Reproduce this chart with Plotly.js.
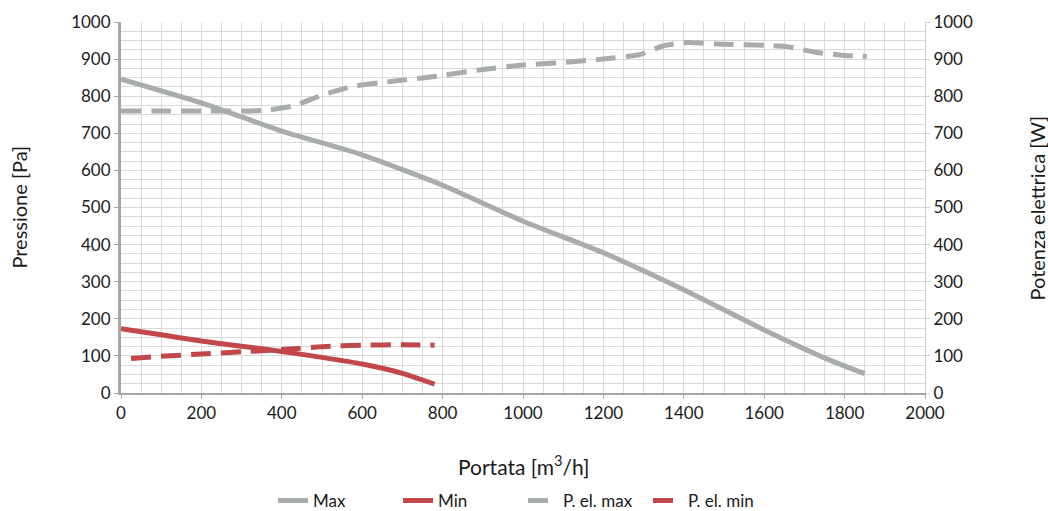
<!DOCTYPE html>
<html>
<head>
<meta charset="utf-8">
<script src="https://cdn.plot.ly/plotly-3.0.1.min.js"></script>
<style>
  html, body { margin: 0; padding: 0; background: #ffffff; }
  #chart { width: 1048px; height: 511px; }
</style>
</head>
<body>
<div id="chart"></div>
<script>
// Data
const maxX = [0, 200, 400, 600, 800, 1000, 1200, 1400, 1600, 1760, 1850];
const maxY = [846, 782, 706, 642, 560, 463, 378, 278, 170, 90, 52];

const minX = [0, 100, 200, 300, 400, 500, 600, 700, 780];
const minY = [173, 157, 140, 126, 112, 96, 78, 53, 24];

const pelMaxX = [0, 100, 200, 300, 360, 430, 500, 575, 665, 750, 800, 900, 1000, 1100, 1200, 1290, 1350, 1410, 1500, 1600, 1660, 1730, 1800, 1855];
const pelMaxY = [760, 760, 760, 760, 762, 774, 803, 826, 839, 849, 856, 872, 884, 891, 900, 912, 936, 945, 940, 937, 933, 918, 910, 907];

const pelMinX = [25, 100, 200, 300, 400, 500, 600, 700, 780];
const pelMinY = [93, 99, 105, 111, 117, 125, 129, 130, 129];

const xTickVals = [0, 200, 400, 600, 800, 1000, 1200, 1400, 1600, 1800, 2000];
const yTickVals = [0, 100, 200, 300, 400, 500, 600, 700, 800, 900, 1000];

const seriesNames = ['Max', 'Min', 'P. el. max', 'P. el. min'];
const xTitle = 'Portata [m<sup>3</sup>/h]';
const yTitle = 'Pressione [Pa]';
const y2Title = 'Potenza elettrica [W]';

const GRAY = '#a9acac';
const RED = '#c2474a';
const GRID = '#d9d9d9';
const AXIS = '#a6a6a6';
const TXT = '#1a1a1a';
const FONT = 'Lato, "Noto Sans", sans-serif';

const traces = [
  { x: maxX, y: maxY, name: seriesNames[0], mode: 'lines', line: { color: GRAY, width: 5, shape: 'spline', smoothing: 0.5 }, yaxis: 'y' },
  { x: minX, y: minY, name: seriesNames[1], mode: 'lines', line: { color: RED, width: 5, shape: 'spline', smoothing: 0.5 }, yaxis: 'y' },
  { x: pelMaxX, y: pelMaxY, name: seriesNames[2], mode: 'lines', line: { color: GRAY, width: 5, dash: '20px,10px', shape: 'spline', smoothing: 0.5 }, yaxis: 'y2' },
  { x: pelMinX, y: pelMinY, name: seriesNames[3], mode: 'lines', line: { color: RED, width: 5, dash: '20px,10px', shape: 'spline', smoothing: 0.5 }, yaxis: 'y2' }
];

const layout = {
  width: 1048, height: 511,
  margin: { l: 121, r: 123, t: 22, b: 118, autoexpand: false },
  paper_bgcolor: '#ffffff', plot_bgcolor: '#ffffff',
  font: { family: FONT, size: 17, color: TXT },
  showlegend: true,
  legend: { orientation: 'h', x: 0.5, xanchor: 'center', y: -0.291, yanchor: 'middle', font: { size: 17, color: TXT }, tracegroupgap: 0, entrywidth: 80 },
  xaxis: {
    range: [0, 2000], tickvals: xTickVals, ticktext: xTickVals.map(String),
    showgrid: true, gridcolor: GRID, gridwidth: 1,
    minor: { dtick: 50, tick0: 0, showgrid: true, gridcolor: GRID, gridwidth: 1, ticks: '' },
    showline: true, linecolor: AXIS, linewidth: 2,
    ticks: 'outside', ticklen: 4, tickcolor: AXIS, tickwidth: 1,
    zeroline: false, fixedrange: true, automargin: false,
    tickfont: { size: 17, color: TXT }
  },
  yaxis: {
    range: [0, 1000], tickvals: yTickVals, ticktext: yTickVals.map(String),
    showgrid: true, gridcolor: GRID, gridwidth: 1,
    minor: { dtick: 25, tick0: 0, showgrid: true, gridcolor: GRID, gridwidth: 1, ticks: '' },
    showline: true, linecolor: AXIS, linewidth: 3,
    ticks: 'outside', ticklen: 4, tickcolor: AXIS, tickwidth: 1,
    zeroline: false, fixedrange: true, automargin: false,
    tickfont: { size: 17, color: TXT }
  },
  yaxis2: {
    range: [0, 1000], tickvals: yTickVals, ticktext: yTickVals.map(String),
    overlaying: 'y', side: 'right', showgrid: false,
    showline: true, linecolor: '#cfcfcf', linewidth: 1,
    ticks: 'outside', ticklen: 4, tickcolor: '#cfcfcf', tickwidth: 1,
    zeroline: false, fixedrange: true, automargin: false,
    tickfont: { size: 17, color: TXT }
  },
  annotations: [
    { text: xTitle, xref: 'paper', yref: 'paper', x: 0.5, y: -0.194, xanchor: 'center', yanchor: 'middle', showarrow: false, font: { size: 21, color: TXT } },
    { text: yTitle, xref: 'paper', yref: 'paper', x: -0.128, y: 0.5, xanchor: 'center', yanchor: 'middle', textangle: -90, showarrow: false, font: { size: 20, color: TXT } },
    { text: y2Title, xref: 'paper', yref: 'paper', x: 1.1393, y: 0.5, xanchor: 'center', yanchor: 'middle', textangle: -90, showarrow: false, font: { size: 20, color: TXT } }
  ]
};

Plotly.newPlot('chart', traces, layout, { displayModeBar: false, staticPlot: true });
</script>
</body>
</html>
